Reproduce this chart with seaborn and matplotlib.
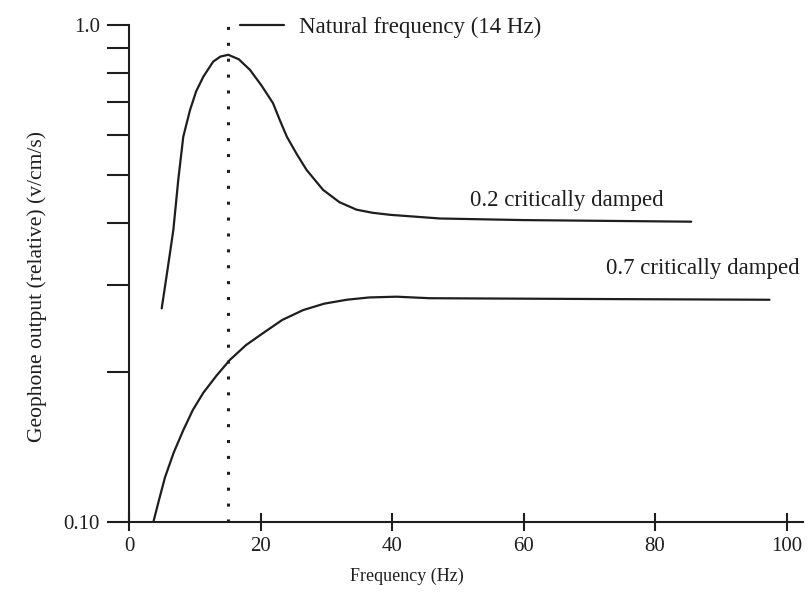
import matplotlib
matplotlib.use("Agg")
import matplotlib.pyplot as plt
import seaborn as sns
import pandas as pd
from matplotlib.lines import Line2D
from matplotlib.ticker import FixedLocator, FixedFormatter, NullFormatter

# ---- data ----
freq_02 = [4.97, 5.9, 6.74, 7.5, 8.25, 9.27, 10.2, 11.3, 12.8, 13.9, 15.1, 16.7, 18.4, 20.1,
           21.9, 22.9, 24.0, 25.5, 27.0, 29.5, 32.0, 34.6, 37.0, 39.7, 47.3, 60.0, 85.5]
out_02 = [0.269, 0.325, 0.387, 0.49, 0.596, 0.674, 0.735, 0.787, 0.844, 0.864, 0.871, 0.853,
          0.812, 0.757, 0.696, 0.645, 0.596, 0.55, 0.511, 0.466, 0.44, 0.425, 0.419, 0.415,
          0.408, 0.405, 0.402]
freq_07 = [3.7, 4.5, 5.47, 6.8, 8.25, 9.7, 11.3, 13.3, 15.35, 17.8, 20.4, 23.3, 26.5, 29.7,
           33.1, 36.5, 40.7, 45.7, 70.0, 97.4]
out_07 = [0.100, 0.110, 0.123, 0.138, 0.153, 0.168, 0.182, 0.197, 0.212, 0.227, 0.240, 0.255,
          0.267, 0.275, 0.280, 0.283, 0.284, 0.282, 0.281, 0.280]
natural_freq = 15.0
x_ticks = [0, 20, 40, 60, 80, 100]
y_major = [0.1, 1.0]
y_major_labels = ["0.10", "1.0"]
y_minor = [0.2, 0.3, 0.4, 0.5, 0.6, 0.7, 0.8, 0.9]
curve_labels = ["0.2 critically damped", "0.7 critically damped"]
natural_label = "Natural frequency (14 Hz)"

df = pd.concat([
    pd.DataFrame({"freq": freq_02, "out": out_02, "curve": curve_labels[0]}),
    pd.DataFrame({"freq": freq_07, "out": out_07, "curve": curve_labels[1]}),
])

sns.set_style("white")
plt.rcParams["font.family"] = ["Liberation Serif", "DejaVu Serif"]

ink = "#1e1e1e"
fig = plt.figure(figsize=(8.09, 5.95), dpi=100)
ax = fig.add_axes([0.1595, 0.1227, 0.8331, 0.8353])

sns.lineplot(data=df, x="freq", y="out", units="curve", estimator=None,
             color=ink, linewidth=1.6, sort=False, ax=ax, legend=False)

ax.axvline(natural_freq, color=ink, linewidth=2.2, linestyle=(0, (1, 4.2)))

ax.set_yscale("log")
ax.set_xlim(0, 102.5)
ax.set_ylim(0.1, 1.0)

ax.xaxis.set_major_locator(FixedLocator(x_ticks))
ax.yaxis.set_major_locator(FixedLocator(y_major))
ax.yaxis.set_major_formatter(FixedFormatter(y_major_labels))
ax.yaxis.set_minor_locator(FixedLocator(y_minor))
ax.yaxis.set_minor_formatter(NullFormatter())

ax.tick_params(axis="y", which="both", left=True, direction="out", length=16, width=1.5,
               color=ink, labelsize=15, labelcolor=ink, pad=5)
ax.tick_params(axis="x", which="major", bottom=True, direction="inout", length=13, width=1.5,
               color=ink, labelsize=15, labelcolor=ink, pad=4)

for side in ["top", "right"]:
    ax.spines[side].set_visible(False)
for side in ["left", "bottom"]:
    ax.spines[side].set_color(ink)
    ax.spines[side].set_linewidth(1.5)

ax.set_xlabel("Frequency (Hz)", fontsize=13, color=ink)
ax.set_ylabel("Geophone output (relative) (v/cm/s)", fontsize=15.5, color=ink)
ax.xaxis.set_label_coords(0.412, -0.092)
ax.yaxis.set_label_coords(-0.122, 0.473)

ax.text(66.6, 0.444, curve_labels[0], fontsize=16.5, color=ink, ha="center", va="center")
ax.text(87.2, 0.324, curve_labels[1], fontsize=16.5, color=ink, ha="center", va="center",
        clip_on=False)

handle = Line2D([], [], color=ink, linewidth=1.6)
ax.legend([handle], [natural_label], loc="center left",
          bbox_to_anchor=(16.9, 0.99), bbox_transform=ax.transData,
          frameon=False, fontsize=16.5, handlelength=1.9, handletextpad=0.65,
          borderpad=0, borderaxespad=0, labelcolor=ink)

fig.savefig("out.png", dpi=100)
